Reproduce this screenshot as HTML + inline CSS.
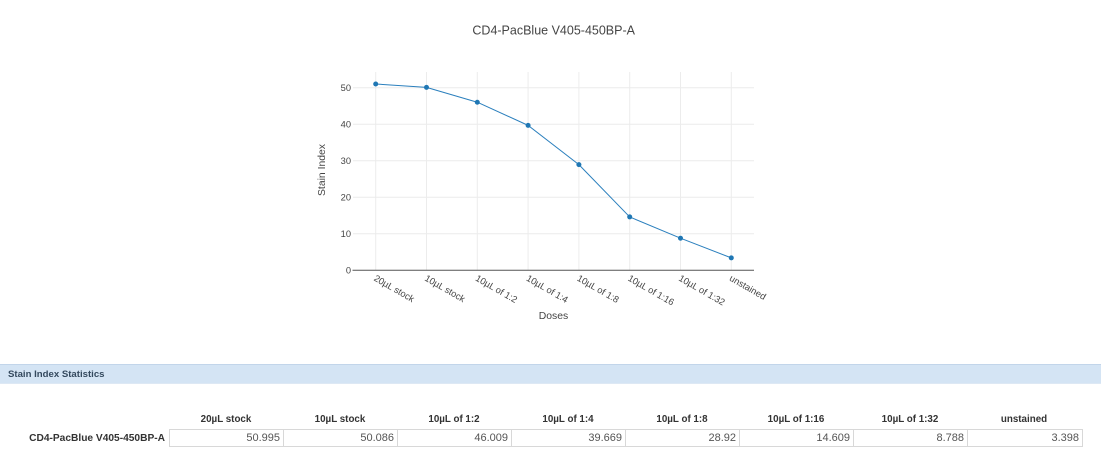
<!DOCTYPE html>
<html>
<head>
<meta charset="utf-8">
<style>
  html, body { margin:0; padding:0; background:#fff; }
  body { width:1101px; height:463px; position:relative; overflow:hidden; font-family:"Liberation Sans", sans-serif; }
  svg { position:absolute; left:0; top:0; }
  .bar { position:absolute; left:0; top:364px; width:1101px; height:20px; background:#d4e4f4; border-top:1px solid #c2d5ea; border-bottom:1px solid #dde8f4; box-sizing:border-box; }
  .bar span { position:absolute; left:8px; top:3px; font-size:9.6px; font-weight:bold; color:#34495e; line-height:13px; }
  .hdr { position:absolute; top:414px; font-size:9.8px; font-weight:bold; color:#333; text-align:center; width:114px; line-height:12px; }
  .lbl { position:absolute; top:432px; right:936px; font-size:10.2px; font-weight:bold; color:#333; line-height:13px; white-space:nowrap; }
  .cell { position:absolute; top:429px; height:18px; width:114px; box-sizing:border-box; border:1px solid #d8d8d8; border-right:none; font-size:11px; color:#555; text-align:right; padding-right:3px; line-height:16px; }
  .cell.last { border-right:1px solid #d8d8d8; }
</style>
</head>
<body>
<svg width="1101" height="340" viewBox="0 0 1101 340" xmlns="http://www.w3.org/2000/svg">
  <text x="553.7" y="34.5" text-anchor="middle" font-family="Liberation Sans, sans-serif" font-size="12.5" fill="#444">CD4-PacBlue V405-450BP-A</text>
  <!-- gridlines -->
  <g stroke="#ececec" stroke-width="1">
    <line x1="353" y1="87.7" x2="754" y2="87.7"/>
    <line x1="353" y1="124.2" x2="754" y2="124.2"/>
    <line x1="353" y1="160.7" x2="754" y2="160.7"/>
    <line x1="353" y1="197.2" x2="754" y2="197.2"/>
    <line x1="353" y1="233.8" x2="754" y2="233.8"/>
    <line x1="375.7" y1="72" x2="375.7" y2="270"/>
    <line x1="426.5" y1="72" x2="426.5" y2="270"/>
    <line x1="477.3" y1="72" x2="477.3" y2="270"/>
    <line x1="528.1" y1="72" x2="528.1" y2="270"/>
    <line x1="578.9" y1="72" x2="578.9" y2="270"/>
    <line x1="629.7" y1="72" x2="629.7" y2="270"/>
    <line x1="680.5" y1="72" x2="680.5" y2="270"/>
    <line x1="731.3" y1="72" x2="731.3" y2="270"/>
  </g>
  <line x1="352.5" y1="270.3" x2="754" y2="270.3" stroke="#555" stroke-width="1"/>
  <!-- y tick labels -->
  <g font-family="Liberation Sans, sans-serif" font-size="9.3" fill="#444" text-anchor="end">
    <text x="351" y="91">50</text>
    <text x="351" y="127.5">40</text>
    <text x="351" y="164">30</text>
    <text x="351" y="200.5">20</text>
    <text x="351" y="237.1">10</text>
    <text x="351" y="273.6">0</text>
  </g>
  <!-- x tick labels -->
  <g font-family="Liberation Sans, sans-serif" font-size="9.3" fill="#444">
    <text transform="translate(373.2,280) rotate(30)">20µL stock</text>
    <text transform="translate(424,280) rotate(30)">10µL stock</text>
    <text transform="translate(474.8,280) rotate(30)">10µL of 1:2</text>
    <text transform="translate(525.6,280) rotate(30)">10µL of 1:4</text>
    <text transform="translate(576.4,280) rotate(30)">10µL of 1:8</text>
    <text transform="translate(627.2,280) rotate(30)">10µL of 1:16</text>
    <text transform="translate(678,280) rotate(30)">10µL of 1:32</text>
    <text transform="translate(728.8,280) rotate(30)">unstained</text>
  </g>
  <text x="553.5" y="318.8" text-anchor="middle" font-family="Liberation Sans, sans-serif" font-size="10.4" fill="#444">Doses</text>
  <text transform="translate(324.8,170) rotate(-90)" text-anchor="middle" font-family="Liberation Sans, sans-serif" font-size="10.4" fill="#444">Stain Index</text>
  <!-- series -->
  <polyline points="375.7,84.02 426.5,87.34 477.3,102.23 528.1,125.39 578.9,164.66 629.7,216.93 680.5,238.20 731.3,257.89" fill="none" stroke="#2a7fbd" stroke-width="1" stroke-linejoin="round"/>
  <g fill="#1f77b4">
    <circle cx="375.7" cy="84.02" r="2.5"/>
    <circle cx="426.5" cy="87.34" r="2.5"/>
    <circle cx="477.3" cy="102.23" r="2.5"/>
    <circle cx="528.1" cy="125.39" r="2.5"/>
    <circle cx="578.9" cy="164.66" r="2.5"/>
    <circle cx="629.7" cy="216.93" r="2.5"/>
    <circle cx="680.5" cy="238.20" r="2.5"/>
    <circle cx="731.3" cy="257.89" r="2.5"/>
  </g>
</svg>

<div class="bar"><span>Stain Index Statistics</span></div>

<div class="hdr" style="left:169px">20µL stock</div>
<div class="hdr" style="left:283px">10µL stock</div>
<div class="hdr" style="left:397px">10µL of 1:2</div>
<div class="hdr" style="left:511px">10µL of 1:4</div>
<div class="hdr" style="left:625px">10µL of 1:8</div>
<div class="hdr" style="left:739px">10µL of 1:16</div>
<div class="hdr" style="left:853px">10µL of 1:32</div>
<div class="hdr" style="left:967px">unstained</div>

<div class="lbl">CD4-PacBlue V405-450BP-A</div>

<div class="cell" style="left:169px">50.995</div>
<div class="cell" style="left:283px">50.086</div>
<div class="cell" style="left:397px">46.009</div>
<div class="cell" style="left:511px">39.669</div>
<div class="cell" style="left:625px">28.92</div>
<div class="cell" style="left:739px">14.609</div>
<div class="cell" style="left:853px">8.788</div>
<div class="cell last" style="left:967px;width:116px">3.398</div>
</body>
</html>
